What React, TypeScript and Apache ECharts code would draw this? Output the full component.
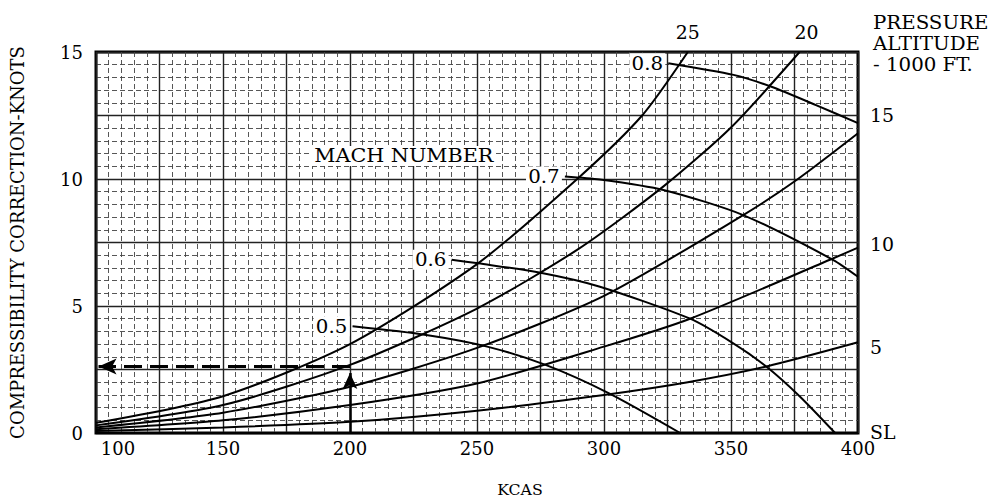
import React, { useEffect, useRef } from "react";
import * as echarts from "echarts";

// ---- axis ticks ----
const kcasMin = 100;
const kcasMax = 400;
const corrMin = 0;
const corrMax = 15;
const kcasLabelStep = 50;
const corrLabelStep = 5;

// ---- pressure altitude curves (KCAS, correction knots) ----
const alt25 = [[100, 0.4], [150, 1.45], [200, 3.5], [250, 6.65], [290, 10.05], [315, 12.5], [333, 15]];
const alt20 = [[100, 0.3], [150, 1.1], [200, 2.68], [250, 4.9], [290, 7.25], [323.3, 9.7], [350.3, 12.06], [377, 15]];
const alt15 = [[100, 0.22], [150, 0.8], [200, 1.82], [250, 3.35], [300, 5.4], [354.8, 8.58], [375.8, 9.96], [400, 11.8]];
const alt10 = [[100, 0.15], [150, 0.5], [200, 1.1], [250, 1.95], [300, 3.4], [333.9, 4.5], [390.3, 6.88], [400, 7.3]];
const alt5 = [[100, 0.08], [150, 0.22], [200, 0.44], [250, 0.88], [300, 1.5], [333, 2.0], [364, 2.62], [400, 3.57]];
const altSL = [[100, 0], [400, 0]];
const altitudeCurves = [alt25, alt20, alt15, alt10, alt5, altSL];
const altitudeNames = ["25", "20", "15", "10", "5", "SL"];

// ---- Mach number curves ----
const mach05 = [[201, 4.2], [230, 3.86], [254, 3.4], [277, 2.68], [302, 1.56], [330, 0]];
const mach06 = [[240, 6.82], [250.5, 6.68], [275, 6.31], [298.4, 5.76], [333.9, 4.5], [350.9, 3.53], [364, 2.61], [377.2, 1.43], [391, 0]];
const mach07 = [[284.6, 10.1], [298.4, 9.98], [323.4, 9.57], [354.8, 8.58], [390.3, 6.81], [400, 6.15]];
const mach08 = [[325.3, 14.56], [351, 14.1], [365.4, 13.65], [383.7, 12.9], [400, 12.2]];
const machCurves = [mach05, mach06, mach07, mach08];
const machNames = ["0.5", "0.6", "0.7", "0.8"];

// ---- worked example ----
const exampleKcas = 200;
const exampleCorrection = 2.62;
const exampleArrowTop = 2.36;

const FONT = '"DejaVu Serif", "Liberation Serif", serif';

export default function App() {
  const ref = useRef<HTMLDivElement>(null);

  useEffect(() => {
    if (!ref.current) return;
    const chart = echarts.init(ref.current, null, { renderer: "svg" });

    const curveStyle = { color: "#000", width: 2 };

    const series: any[] = [];
    altitudeCurves.forEach((d, i) => {
      series.push({
        type: "line",
        name: "alt" + altitudeNames[i],
        data: d,
        showSymbol: false,
        symbol: "none",
        smooth: 0.25,
        lineStyle: curveStyle,
        z: 5,
      });
    });
    machCurves.forEach((d, i) => {
      series.push({
        type: "line",
        name: "mach" + machNames[i],
        data: d,
        showSymbol: false,
        symbol: "none",
        smooth: 0.25,
        lineStyle: curveStyle,
        z: 5,
      });
    });
    series.push({
      type: "line",
      data: [],
      markLine: {
        silent: true,
        symbol: ["none", "arrow"],
        symbolSize: [12, 18],
        label: { show: false },
        lineStyle: { color: "#000", width: 3, type: [18, 8] },
        data: [[{ coord: [exampleKcas, exampleCorrection] }, { coord: [kcasMin + 1, exampleCorrection] }]],
      },
    });
    series.push({
      type: "line",
      data: [],
      markLine: {
        silent: true,
        symbol: ["none", "arrow"],
        symbolSize: [11, 16],
        label: { show: false },
        lineStyle: { color: "#000", width: 2.5, type: "solid" },
        data: [[{ coord: [exampleKcas, corrMin] }, { coord: [exampleKcas, exampleArrowTop] }]],
      },
    });

    chart.setOption({
      animation: false,
      backgroundColor: "#fff",
      grid: {
        left: 96,
        right: 137,
        top: 52,
        bottom: 71,
        show: true,
        borderColor: "#000",
        borderWidth: 3,
        backgroundColor: "#fff",
      },
      xAxis: {
        type: "value",
        min: kcasMin,
        max: kcasMax,
        interval: 25,
        axisLine: { show: false },
        axisTick: { show: false },
        splitLine: { show: true, lineStyle: { color: "#222", width: 1.4 } },
        minorTick: { show: false, splitNumber: 5 },
        minorSplitLine: { show: true, lineStyle: { color: "#444", width: 0.9, type: [5, 3] } },
        axisLabel: {
          margin: 6,
          color: "#000",
          fontFamily: FONT,
          fontSize: 18,
          formatter: (v: number) =>
            v % kcasLabelStep === 0 ? (v === kcasMin ? "{first|" + v + "}" : String(v)) : "",
          rich: { first: { padding: [0, 0, 0, 44], fontFamily: FONT, fontSize: 18, color: "#000" } },
        },
      },
      yAxis: {
        type: "value",
        min: corrMin,
        max: corrMax,
        interval: 2.5,
        axisLine: { show: false },
        axisTick: { show: false },
        splitLine: { show: true, lineStyle: { color: "#222", width: 1.4 } },
        minorTick: { show: false, splitNumber: 5 },
        minorSplitLine: { show: true, lineStyle: { color: "#444", width: 0.9, type: [5, 3] } },
        axisLabel: {
          margin: 13,
          color: "#000",
          fontFamily: FONT,
          fontSize: 18,
          formatter: (v: number) => (v % corrLabelStep === 0 ? String(v) : ""),
        },
        name: "COMPRESSIBILITY CORRECTION-KNOTS",
        nameLocation: "middle",
        nameGap: 70,
        nameTextStyle: { color: "#000", fontFamily: FONT, fontSize: 18 },
      },
      series,
    });

    const px = (p: number[]) => chart.convertToPixel({ gridIndex: 0 }, p) as number[];
    const txt = (x: number, y: number, text: string, align: string, bg = false, size = 18, sx = 1) => ({
      type: "text",
      x,
      y,
      z: 20,
      scaleX: sx,
      style: {
        text,
        fill: "#000",
        font: `${size}px ${FONT}`,
        align,
        textAlign: align,
        verticalAlign: "middle",
        textVerticalAlign: "middle",
        backgroundColor: bg ? "#fff" : undefined,
        padding: bg ? [1, 2] : undefined,
      },
    });

    const altOffsets = [
      [0, -19, "center"],
      [7, -19, "center"],
      [12, -18, "left"],
      [12, -3, "left"],
      [12, 5, "left"],
      [12, 0, "left"],
    ];
    const graphics: any[] = [];
    altitudeCurves.forEach((d, i) => {
      const p = px(d[d.length - 1]);
      const [dx, dy, al] = altOffsets[i] as [number, number, string];
      graphics.push(txt(p[0] + dx, p[1] + dy, altitudeNames[i], al, false, 18, 1.05));
    });
    machCurves.forEach((d, i) => {
      const p = px(d[0]);
      graphics.push(txt(p[0] - 3, p[1], machNames[i], "right", true, 18, 1.1));
    });
    graphics.push(txt(873, 22, "PRESSURE", "left", false, 18, 1.1));
    graphics.push(txt(873, 43, "ALTITUDE", "left", false, 18, 1.1));
    graphics.push(txt(873, 64, "- 1000 FT.", "left", false, 18, 1.1));
    graphics.push(txt(312, 156, "MACH NUMBER", "left", true, 18, 1.15));
    graphics.push(txt(520, 490, "KCAS", "center", false, 15, 1.05));

    chart.setOption({ graphic: graphics });

    return () => chart.dispose();
  }, []);

  return (
    <div
      ref={ref}
      style={{ position: "fixed", left: 0, top: 0, width: 995, height: 504, background: "#fff" }}
    />
  );
}
